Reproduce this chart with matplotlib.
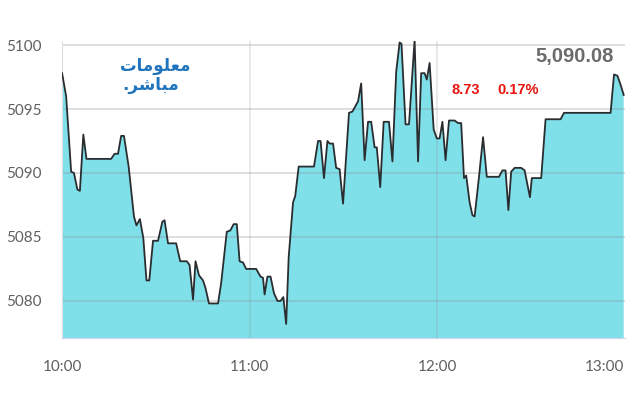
import matplotlib
matplotlib.use('Agg')
import matplotlib.pyplot as plt

# minutes after 10:00 and index level
minutes = [0, 1.3, 2.9, 3.8, 4.9, 5.7, 6.8, 7.8, 15.7, 16.8, 17.9, 18.9, 19.8, 21.3,
           23.0, 23.8, 24.9, 26.0, 27.0, 27.9, 29.1, 30.7, 32.1, 32.8, 33.9, 36.5,
           37.8, 39.9, 40.8, 41.9, 42.7, 43.8, 45.1, 45.9, 47.0, 49.9, 50.9, 52.7,
           53.8, 54.9, 55.9, 56.8, 57.9, 58.9, 62.1, 63.5, 64.3, 64.8, 65.7, 66.7,
           67.8, 68.9, 69.9, 70.8, 71.7, 72.5, 73.9, 74.6, 75.7, 80.6, 81.9, 82.7,
           83.8, 84.9, 85.6, 86.7, 87.7, 88.8, 89.9, 91.8, 92.9, 94.7, 95.7, 96.8,
           97.9, 98.9, 100.0, 100.7, 101.8, 102.9, 104.6, 105.7, 106.9, 108.0, 108.6,
           109.9, 111.0, 112.8, 113.9, 114.9, 116.0, 116.7, 117.6, 118.9, 119.9,
           120.8, 121.7, 122.7, 123.8, 125.6, 126.7, 127.7, 128.6, 129.3, 130.4,
           131.3, 132.0, 133.4, 134.7, 135.9, 139.8, 140.9, 141.9, 142.8, 143.7,
           144.8, 146.9, 148.0, 149.7, 150.3, 153.3, 154.7, 159.5, 160.6, 175.5,
           176.6, 177.7, 178.7, 179.7]
values = [5097.8, 5096.0, 5090.1, 5090.0, 5088.7, 5088.6, 5093.0, 5091.1, 5091.1, 5091.5,
          5091.5, 5092.9, 5092.9, 5090.5, 5086.6, 5085.9, 5086.4, 5084.9, 5081.6, 5081.6,
          5084.7, 5084.7, 5086.2, 5086.3, 5084.5, 5084.5, 5083.1, 5083.1, 5082.8, 5080.1,
          5083.1, 5082.0, 5081.6, 5081.0, 5079.8, 5079.8, 5081.4, 5085.4, 5085.5, 5086.0,
          5086.0, 5083.1, 5083.0, 5082.5, 5082.5, 5081.9, 5081.8, 5080.5, 5081.9, 5081.9,
          5080.6, 5080.0, 5080.0, 5080.3, 5078.2, 5083.4, 5087.7, 5088.2, 5090.5, 5090.5,
          5092.5, 5092.5, 5089.6, 5092.5, 5092.3, 5092.3, 5090.4, 5090.3, 5087.6, 5094.7,
          5094.8, 5095.6, 5097.0, 5091.0, 5094.0, 5094.0, 5092.0, 5092.0, 5088.9, 5094.0,
          5094.0, 5090.9, 5097.9, 5100.2, 5100.1, 5093.8, 5093.8, 5100.4, 5090.9, 5097.8,
          5097.8, 5097.3, 5098.6, 5093.4, 5092.7, 5092.7, 5094.0, 5091.0, 5094.1, 5094.1,
          5093.9, 5093.9, 5089.6, 5089.8, 5087.7, 5086.7, 5086.6, 5089.7, 5092.8, 5089.7,
          5089.7, 5090.2, 5090.2, 5087.1, 5090.1, 5090.4, 5090.4, 5090.2, 5088.1, 5089.6,
          5089.6, 5094.2, 5094.2, 5094.7, 5094.7, 5097.7, 5097.6, 5096.9, 5096.1]

y_ticks = [5080, 5085, 5090, 5095, 5100]
x_ticks = [0, 60, 120, 180]
x_labels = ['10:00', '11:00', '12:00', '13:00']

last_price = '5,090.08'
change = '8.73'
change_pct = '0.17%'
logo_top = '\uFE95\uFE8E\uFEE3\uFEEE\uFEE0\uFECC\uFEE3'      # معلومات
logo_bottom = '.\uFEAE\uFEB7\uFE8E\uFE92\uFEE3'              # مباشر.

plt.rcParams['font.family'] = ['Lato', 'DejaVu Sans']

fig = plt.figure(figsize=(6.4, 4), dpi=100)
ax = fig.add_axes([0.097, 0.155, 0.879, 0.742])

ax.fill_between(minutes, values, 5000, color='#80e0ea', zorder=1, linewidth=0)
ax.plot(minutes, values, color='#2a2d30', linewidth=1.3, zorder=3)

for y in y_ticks:
    ax.axhline(y, color='#8a8a8a', alpha=0.28, linewidth=1.4, zorder=2)
for x in [60, 120]:
    ax.axvline(x, color='#8a8a8a', alpha=0.22, linewidth=1.2, zorder=2)

ax.set_xlim(0, 180)
ax.set_ylim(5077.1, 5100.3)

ax.set_yticks(y_ticks)
ax.set_yticklabels([str(v) for v in y_ticks], fontsize=11, color='#606060')
ax.set_xticks(x_ticks)
ax.set_xticklabels(x_labels, fontsize=11, color='#606060')
ax.get_xticklabels()[-1].set_horizontalalignment('right')
ax.tick_params(axis='y', length=0, pad=15)
ax.tick_params(axis='x', length=0, pad=16)

for side in ['top', 'right']:
    ax.spines[side].set_visible(False)
ax.spines['left'].set_color('#dddddd')
ax.spines['bottom'].set_color('#d4d4ec')

ax.text(0.981, 0.947, last_price, transform=ax.transAxes, ha='right', va='center',
        fontsize=14.5, fontweight='bold', color='#6b6b6b', family='Liberation Sans')
ax.text(0.7176, 0.837, change, transform=ax.transAxes, ha='center', va='center',
        fontsize=10.5, fontweight='bold', color='#e8130f', family='Liberation Sans')
ax.text(0.81, 0.837, change_pct, transform=ax.transAxes, ha='center', va='center',
        fontsize=10.5, fontweight='bold', color='#e8130f', family='Liberation Sans')

ax.text(0.166, 0.915, logo_top, transform=ax.transAxes, ha='center', va='center',
        fontsize=12, fontweight='bold', color='#1f74bd', family='DejaVu Sans')
ax.text(0.158, 0.853, logo_bottom, transform=ax.transAxes, ha='center', va='center',
        fontsize=12, fontweight='bold', color='#1f74bd', family='DejaVu Sans')

fig.savefig('out.png', dpi=100)
